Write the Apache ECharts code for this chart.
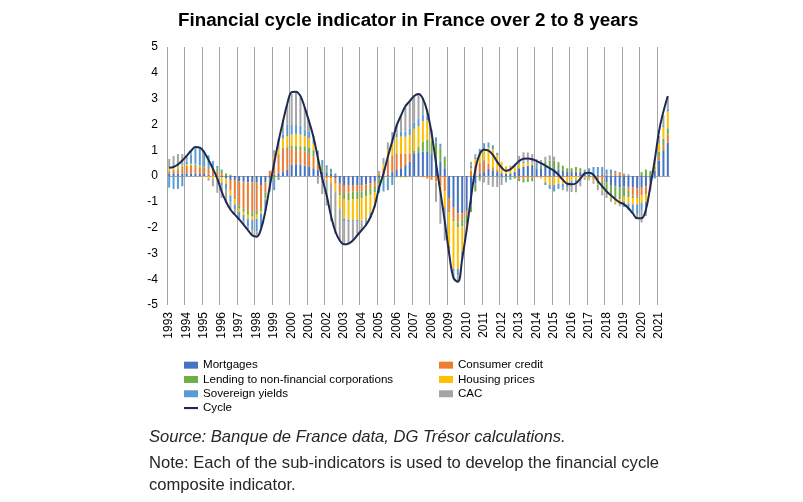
<!DOCTYPE html>
<html>
<head>
<meta charset="utf-8">
<script src="https://cdn.jsdelivr.net/npm/echarts@6/dist/echarts.min.js"></script>
<style>
html,body{margin:0;padding:0;background:#fff;}
#chart{width:803px;height:502px;}
</style>
</head>
<body>
<div id="chart"></div>
<script>
// Quarterly categories 1993Q1 .. 2021Q3
const years = [1993,1994,1995,1996,1997,1998,1999,2000,2001,2002,2003,2004,2005,2006,2007,2008,2009,2010,2011,2012,2013,2014,2015,2016,2017,2018,2019,2020,2021];
const quarters = ['Q1','Q2','Q3','Q4'];
const lastYearQuarters = 3;

const mortgages = [
  0.08,0.1,0.1,0.1, 0.1,0.1,0.1,0.08, 0.08,0.05,0.03,0.02, -0.05,-0.1,-0.15,-0.15,
  -0.2,-0.22,-0.25,-0.25, -0.25,-0.35,-0.25,-0.1, 0.05,0.1,0.15,0.25, 0.43,0.46,0.45,0.4,
  0.36,0.3,0.23,0.17, 0.12,0.08,-0.1,-0.3, -0.35,-0.35,-0.35,-0.35, -0.35,-0.32,-0.28,-0.22,
  -0.1,-0.05,0.05,0.15, 0.23,0.3,0.42,0.55, 0.88,0.92,0.95,0.95, 0.85,0.7,0.55,0.3,
  -0.85,-1.2,-1.45,-1.45, -1.35,-1.1,-0.3,0.1, 0.15,0.28,0.22,0.15, 0.1,0.08,0.1,0.15,
  0.3,0.35,0.4,0.42, 0.3,0.3,0.35,0.35, 0.3,0.25,0.2,0.15, 0.15,0.15,0.15,0.15,
  0.05,0.05,0.05,0.05, -0.25,-0.35,-0.4,-0.45, -0.4,-0.42,-0.45,-0.48, -0.45,-0.4,-0.2,0.2,
  0.6,1.0,1.3
];
const consumerCredit = [
  0.1,0.12,0.15,0.2, 0.28,0.3,0.28,0.25, 0.25,0.22,0.2,0.15, 0.1,0.0,-0.4,-0.7,
  -0.95,-1.05,-1.1,-1.15, -1.1,-0.9,-0.4,0.2, 0.6,0.75,0.9,0.85, 0.65,0.55,0.55,0.55,
  0.5,0.45,0.2,0.05, -0.1,-0.1,-0.2,-0.35, -0.35,-0.3,-0.25,-0.25, -0.25,-0.22,-0.2,-0.15,
  0.1,0.3,0.6,0.65, 0.65,0.58,0.45,0.33, 0.05,0.0,-0.05,-0.1, -0.15,-0.2,-0.35,-0.6,
  -0.5,-0.45,-0.35,-0.25, -0.15,0.2,0.4,0.4, 0.45,0.2,0.12,0.1, 0.05,0.0,0.0,0.02,
  -0.1,-0.1,-0.08,-0.05, -0.05,-0.05,-0.05,-0.05, -0.05,-0.05,-0.05,-0.05, 0.0,0.05,0.05,0.0,
  -0.05,-0.1,-0.15,-0.2, 0.05,0.05,0.1,0.15, 0.05,-0.15,-0.3,-0.32, -0.3,-0.3,-0.1,0.05,
  0.15,0.2,0.3
];
const lendingNFC = [
  0.03,0.03,0.05,0.05, 0.03,0.03,0.05,0.05, 0.05,0.08,0.1,0.12, 0.15,0.1,0.05,-0.05,
  -0.12,-0.12,-0.15,-0.15, -0.15,-0.1,-0.2,-0.15, -0.15,-0.05,0.05,0.05, 0.1,0.15,0.15,0.2,
  0.25,0.25,0.3,0.2, 0.1,0.05,0.0,-0.1, -0.2,-0.3,-0.3,-0.3, -0.25,-0.25,-0.25,-0.25,
  -0.2,-0.15,-0.05,0.0, -0.05,-0.05,-0.05,0.0, 0.05,0.2,0.38,0.45, 0.5,0.6,0.55,0.4,
  -0.05,-0.1,-0.2,-0.25, -0.35,-0.3,-0.3,-0.15, 0.02,0.0,-0.02,-0.03, 0.0,-0.05,-0.05,-0.1,
  -0.1,-0.15,-0.15,-0.15, 0.05,0.1,0.2,0.25, 0.3,0.25,0.2,0.15, 0.15,0.15,0.1,0.05,
  -0.05,-0.05,-0.15,-0.3, -0.35,-0.4,-0.5,-0.45, -0.4,-0.25,-0.1,-0.05, 0.15,0.25,0.2,0.1,
  0.2,0.25,0.25
];
const housingPrices = [
  0.1,0.08,0.05,0.05, 0.05,0.05,0.03,0.02, -0.05,-0.08,-0.1,-0.15, -0.2,-0.2,-0.2,-0.2,
  -0.12,-0.12,-0.15,-0.15, -0.15,-0.1,-0.05,0.0, 0.1,0.2,0.35,0.4, 0.42,0.47,0.45,0.4,
  0.35,0.25,0.1,0.0, -0.05,-0.15,-0.3,-0.5, -0.75,-0.75,-0.8,-0.8, -0.9,-0.85,-0.7,-0.5,
  -0.05,0.15,0.35,0.45, 0.62,0.65,0.65,0.7, 0.85,0.8,0.8,0.75, 0.15,-0.05,-0.3,-0.6,
  -1.35,-1.85,-1.6,-1.0, -0.3,0.1,0.25,0.35, 0.4,0.62,0.7,0.55, 0.4,0.3,0.25,0.2,
  0.15,0.15,0.12,0.1, 0.0,-0.05,-0.2,-0.3, -0.3,-0.25,-0.25,-0.25, -0.2,-0.15,-0.1,-0.05,
  -0.05,-0.05,-0.05,-0.05, -0.05,-0.1,-0.15,-0.2, -0.2,-0.25,-0.25,-0.25, -0.3,-0.3,-0.1,0.2,
  0.3,0.45,0.65
];
const sovereignYields = [
  -0.45,-0.5,-0.5,-0.4, 0.1,0.35,0.6,0.7, 0.6,0.45,0.25,0.1, -0.1,-0.2,-0.25,-0.2,
  -0.2,-0.25,-0.3,-0.4, -0.5,-0.55,-0.45,-0.35, -0.4,-0.1,0.15,0.45, 0.38,0.35,0.35,0.25,
  0.25,0.2,0.15,0.2, 0.2,0.15,0.1,0.0, -0.12,-0.1,-0.05,-0.05, -0.05,-0.05,-0.05,0.0,
  -0.3,-0.4,-0.5,-0.35, 0.15,0.2,0.2,0.25, 0.25,0.3,0.25,0.15, 0.2,0.2,0.15,0.05,
  -0.05,-0.1,-0.25,-0.3, 0.0,0.1,0.1,0.2, 0.25,0.2,0.15,0.1, -0.1,-0.1,-0.1,0.0,
  0.05,0.05,0.05,0.05, 0.15,0.1,-0.1,-0.15, -0.25,-0.2,-0.15,-0.15, -0.1,-0.1,-0.05,0.05,
  0.25,0.3,0.3,0.3, 0.2,0.2,0.1,0.0, -0.2,-0.25,-0.3,-0.38, -0.3,-0.2,-0.1,-0.1,
  0.0,0.05,0.1
];
const cac = [
  0.35,0.45,0.5,0.45, 0.2,0.15,0.1,0.0, 0.0,-0.1,-0.3,-0.5, -0.5,-0.55,-0.3,-0.15,
  -0.1,-0.1,-0.1,-0.15, -0.15,-0.05,0.0,0.0, 0.25,0.4,0.55,0.75, 1.2,1.25,1.1,0.85,
  0.4,0.1,-0.3,-0.7, -1.0,-1.5,-1.65,-1.25, -0.85,-0.8,-0.75,-0.55, -0.35,-0.25,-0.15,-0.1,
  0.1,0.25,0.3,0.45, 0.35,0.6,0.95,1.05, 1.0,0.95,0.65,0.3, 0.1,-0.75,-1.2,-1.3,
  -0.2,-0.25,-0.25,0.0, 0.0,0.15,0.1,-0.05, -0.25,-0.35,-0.4,-0.4, -0.25,-0.1,0.05,0.1,
  0.28,0.37,0.34,0.28, 0.15,0.12,0.2,0.2, 0.15,0.05,-0.1,-0.15, -0.32,-0.38,-0.25,-0.1,
  -0.02,-0.1,-0.2,-0.2, -0.2,-0.15,-0.05,-0.07, 0.05,0.07,-0.05,-0.16, -0.45,-0.35,-0.1,0.1,
  0.3,0.4,0.45
];
const cycle = [
  0.32,0.35,0.45,0.6, 0.78,0.98,1.12,1.1, 0.92,0.62,0.28,-0.1, -0.6,-1.0,-1.3,-1.5,
  -1.68,-1.88,-2.1,-2.3, -2.35,-2.05,-1.35,-0.4, 0.5,1.35,2.1,2.8, 3.25,3.27,3.1,2.65,
  2.1,1.5,0.7,-0.1, -0.75,-1.55,-2.15,-2.5, -2.65,-2.62,-2.5,-2.3, -2.1,-1.9,-1.6,-1.15,
  -0.45,0.1,0.75,1.35, 1.95,2.35,2.7,2.9, 3.1,3.18,3.0,2.5, 1.65,0.5,-0.6,-1.75,
  -3.0,-3.95,-4.1,-3.2, -2.1,-0.85,0.25,0.85, 1.02,0.98,0.82,0.55, 0.33,0.2,0.26,0.42,
  0.58,0.67,0.68,0.65, 0.58,0.5,0.4,0.3, 0.2,0.05,-0.15,-0.3, -0.32,-0.28,-0.1,0.1,
  0.13,0.05,-0.2,-0.4, -0.6,-0.75,-0.9,-1.02, -1.1,-1.25,-1.45,-1.64, -1.64,-1.3,-0.4,0.6,
  1.75,2.5,3.1
];

const categories = [];
years.forEach((y, yi) => {
  const nq = yi === years.length - 1 ? lastYearQuarters : 4;
  for (let q = 0; q < nq; q++) categories.push(y + ' ' + quarters[q]);
});

const seriesNames = ['Mortgages','Consumer credit','Lending to non-financial corporations','Housing prices','Sovereign yields','CAC'];
const seriesData = [mortgages, consumerCredit, lendingNFC, housingPrices, sovereignYields, cac];
const colors = ['#4472C4','#ED7D31','#70AD47','#FFC000','#5B9BD5','#A5A5A5'];
const FONT = '"Liberation Sans", Arial, sans-serif';
const GRID_COLOR = '#A6A6A6';

// one colour per year boundary line; the closing boundary at the right edge is hidden
const splitColors = years.map(() => GRID_COLOR).concat(['rgba(0,0,0,0)']);

const chart = echarts.init(document.getElementById('chart'), null, {renderer: 'canvas'});

const series = seriesNames.map((name, i) => ({
  name: name,
  type: 'bar',
  stack: 'total',
  barWidth: 2,
  itemStyle: {color: colors[i]},
  data: seriesData[i],
  z: 2,
  markLine: i === 0 ? {
    silent: true,
    symbol: 'none',
    label: {show: false},
    lineStyle: {color: GRID_COLOR, width: 1, type: 'solid'},
    data: [{yAxis: 0}],
    z: 1
  } : undefined
}));
series.push({
  name: 'Cycle',
  type: 'line',
  data: cycle,
  smooth: 0.4,
  symbol: 'none',
  showSymbol: false,
  lineStyle: {color: '#1F2A52', width: 2},
  itemStyle: {color: '#1F2A52'},
  z: 5
});

const legendText = {fontFamily: FONT, fontSize: 11.6, color: '#000', lineHeight: 14.3};

chart.setOption({
  animation: false,
  backgroundColor: '#ffffff',
  title: {
    text: 'Financial cycle indicator in France over 2 to 8 years',
    left: 178, top: 11, padding: 0,
    textStyle: {fontFamily: FONT, fontSize: 18.8, fontWeight: 'bold', color: '#000'}
  },
  grid: {left: 167, top: 47, width: 503, height: 258, containLabel: false},
  xAxis: {
    type: 'category',
    data: categories,
    boundaryGap: true,
    axisLine: {show: false},
    axisTick: {show: false},
    axisLabel: {
      interval: 3, rotate: 90, margin: 7,
      fontFamily: FONT, fontSize: 12, color: '#000',
      formatter: v => v.slice(0, 4)
    },
    splitLine: {show: true, interval: 3, showMaxLine: false, lineStyle: {color: splitColors, width: 1}}
  },
  yAxis: {
    type: 'value',
    min: -5, max: 5, interval: 1,
    axisLine: {show: false},
    axisTick: {show: false},
    splitLine: {show: false},
    axisLabel: {fontFamily: FONT, fontSize: 12, color: '#000', margin: 9}
  },
  legend: [
    {
      orient: 'vertical', left: 184, top: 358, padding: 0, itemGap: 0,
      itemWidth: 14, itemHeight: 7, textStyle: legendText,
      data: [
        {name: 'Mortgages', icon: 'rect'},
        {name: 'Lending to non-financial corporations', icon: 'rect'},
        {name: 'Sovereign yields', icon: 'rect'},
        {name: 'Cycle', icon: 'path://M0,0L30,0L30,4.5L0,4.5Z'}
      ]
    },
    {
      orient: 'vertical', left: 439, top: 358, padding: 0, itemGap: 0,
      itemWidth: 14, itemHeight: 7, textStyle: legendText,
      data: [
        {name: 'Consumer credit', icon: 'rect'},
        {name: 'Housing prices', icon: 'rect'},
        {name: 'CAC', icon: 'rect'}
      ]
    }
  ],
  graphic: [
    {type: 'text', x: 149, y: 437, style: {text: 'Source: Banque de France data, DG Trésor calculations.', font: 'italic 16.6px ' + FONT, fill: '#262626', verticalAlign: 'middle'}},
    {type: 'text', x: 149, y: 463, style: {text: 'Note: Each of the sub-indicators is used to develop the financial cycle', font: '16.6px ' + FONT, fill: '#262626', verticalAlign: 'middle'}},
    {type: 'text', x: 149, y: 485, style: {text: 'composite indicator.', font: '16.6px ' + FONT, fill: '#262626', verticalAlign: 'middle'}}
  ],
  series: series
});
</script>
</body>
</html>
